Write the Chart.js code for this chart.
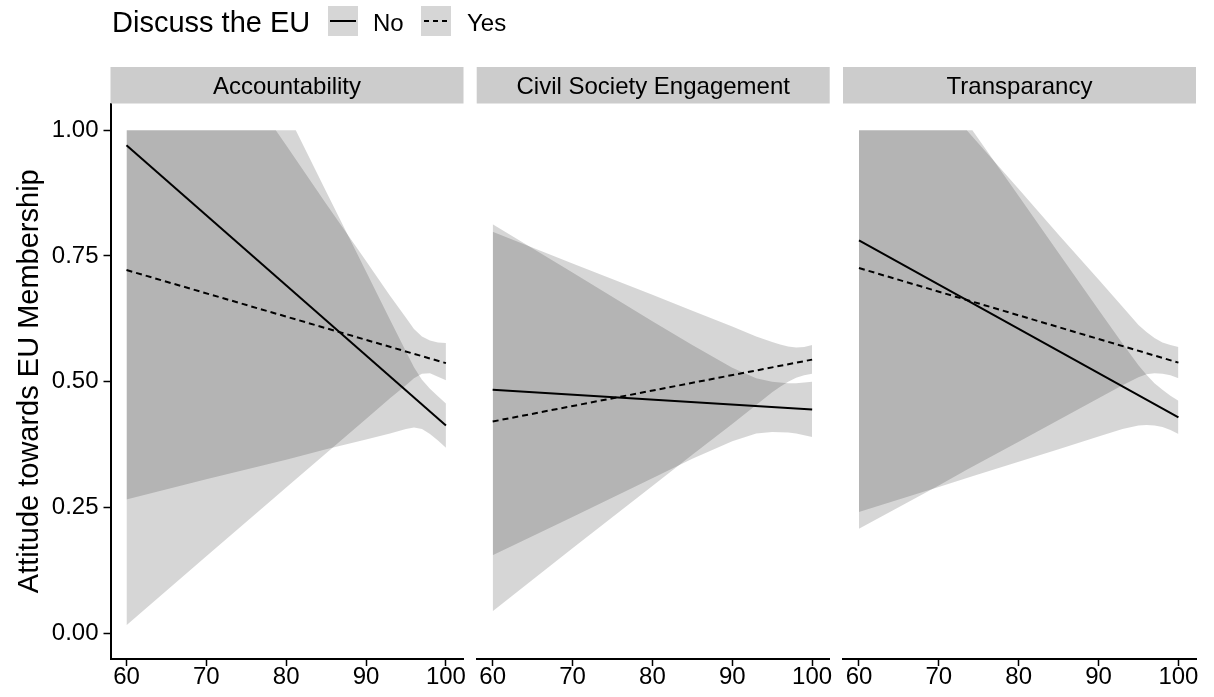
<!DOCTYPE html>
<html>
<head>
<meta charset="utf-8">
<title>Attitude towards EU Membership</title>
<script src="https://cdn.jsdelivr.net/npm/chart.js@4.4.0/dist/chart.umd.min.js"></script>
<style>
  body { margin: 0; background: #fff; font-family: "Liberation Sans", Arial, sans-serif; }
  #wrap { position: relative; width: 1214px; height: 697px; overflow: hidden; background: #fff; }
  #wrap canvas { position: absolute; top: 0; }
  .leg { position: absolute; color: #000; white-space: nowrap; }
  .leg-title { left: 112px; top: 8px; font-size: 29px; line-height: 29px; }
  .leg-text { top: 11px; font-size: 24px; line-height: 24px; }
  .leg-key { position: absolute; top: 6px; }
</style>
</head>
<body>
<div id="wrap">
  <canvas id="p1" width="470" height="697" style="left:0px"></canvas>
  <canvas id="p2" width="366" height="697" style="left:470px"></canvas>
  <canvas id="p3" width="378" height="697" style="left:836px"></canvas>

  <div class="leg leg-title">Discuss the EU</div>
  <svg class="leg-key" style="left:328px" width="30" height="30">
    <rect width="30" height="30" fill="rgb(214,214,214)"></rect>
    <line x1="2" y1="15" x2="28" y2="15" stroke="#000" stroke-width="2"></line>
  </svg>
  <div class="leg leg-text" style="left:373px">No</div>
  <svg class="leg-key" style="left:421px" width="30" height="30">
    <rect width="30" height="30" fill="rgb(214,214,214)"></rect>
    <line x1="3" y1="15" x2="28" y2="15" stroke="#000" stroke-width="2" stroke-dasharray="5 4"></line>
  </svg>
  <div class="leg leg-text" style="left:467px">Yes</div>
</div>

<script>
const xTicks = [60, 70, 80, 90, 100];
const yTicks = [0, 0.25, 0.5, 0.75, 1];
const panelNames = ['Accountability', 'Civil Society Engagement', 'Transparancy'];

// fitted lines, values at x = 60 and x = 100
const lineX = [60, 100];
const accNo = [0.970, 0.413];
const accYes = [0.722, 0.537];
const cseNo = [0.484, 0.445];
const cseYes = [0.421, 0.544];
const traNo = [0.781, 0.429];
const traYes = [0.726, 0.538];

// confidence bands, rows of [x, lower, upper] (upper capped at 1)
const accNoBand = [
  [60, 0.266, 1], [70, 0.306, 1], [80, 0.345, 1], [81.2, 0.350, 1],
  [85, 0.366, 0.878], [90, 0.385, 0.719], [93, 0.397, 0.623], [95, 0.406, 0.560],
  [96, 0.409, 0.529], [97, 0.406, 0.504], [98, 0.396, 0.486], [99, 0.383, 0.471],
  [100, 0.369, 0.457]
];
const accYesBand = [
  [60, 0.016, 1], [70, 0.153, 1], [78.7, 0.272, 1], [80, 0.290, 0.970],
  [85, 0.358, 0.854], [90, 0.426, 0.740], [93, 0.467, 0.671], [95, 0.493, 0.627],
  [96, 0.507, 0.605], [97, 0.516, 0.590], [98, 0.517, 0.582], [99, 0.510, 0.578],
  [100, 0.503, 0.577]
];
const cseNoBand = [
  [60, 0.155, 0.813], [70, 0.231, 0.717], [80, 0.308, 0.620], [85, 0.347, 0.573],
  [90, 0.382, 0.528], [93, 0.397, 0.507], [95, 0.400, 0.500], [97, 0.399, 0.497],
  [98, 0.397, 0.497], [100, 0.390, 0.500]
];
const cseYesBand = [
  [60, 0.044, 0.798], [70, 0.169, 0.735], [80, 0.293, 0.673], [85, 0.355, 0.641],
  [90, 0.416, 0.610], [93, 0.454, 0.590], [95, 0.479, 0.579], [96, 0.490, 0.574],
  [97, 0.500, 0.570], [98, 0.508, 0.568], [99, 0.513, 0.569], [100, 0.516, 0.573]
];
const traNoBand = [
  [60, 0.241, 1], [70, 0.291, 1], [74.2, 0.312, 1], [80, 0.341, 0.869],
  [85, 0.366, 0.756], [90, 0.391, 0.643], [93, 0.406, 0.576], [95, 0.413, 0.533],
  [96, 0.414, 0.514], [97, 0.413, 0.497], [98, 0.410, 0.484], [99, 0.404, 0.472],
  [100, 0.396, 0.462]
];
const traYesBand = [
  [60, 0.208, 1], [70, 0.294, 1], [73.5, 0.325, 1], [80, 0.381, 0.883],
  [85, 0.424, 0.792], [90, 0.467, 0.703], [93, 0.493, 0.649], [95, 0.509, 0.613],
  [96, 0.515, 0.599], [97, 0.517, 0.587], [98, 0.516, 0.578], [99, 0.513, 0.573],
  [100, 0.507, 0.569]
];

const FONT = '"Liberation Sans", Arial, sans-serif';
const ribbonFill = 'rgba(0,0,0,0.16)';
Chart.defaults.font.family = FONT;
Chart.defaults.color = '#000';

function lineSet(vals, dashed) {
  return {
    data: lineX.map((x, i) => ({ x: x, y: vals[i] })),
    borderColor: '#000',
    borderWidth: 2,
    borderDash: dashed ? [6, 4] : [],
    pointRadius: 0,
    fill: false,
    tension: 0
  };
}

function bandSets(band) {
  const common = {
    borderColor: 'rgba(0,0,0,0)',
    borderWidth: 0,
    pointRadius: 0,
    tension: 0
  };
  return [
    Object.assign({}, common, { data: band.map(r => ({ x: r[0], y: r[1] })), fill: false }),
    Object.assign({}, common, { data: band.map(r => ({ x: r[0], y: r[2] })), fill: '-1', backgroundColor: ribbonFill })
  ];
}

// grey facet strip above each panel
const stripPlugin = {
  id: 'strip',
  afterDraw(chart, args, opts) {
    const { ctx, chartArea } = chart;
    ctx.save();
    ctx.fillStyle = 'rgb(204,204,204)';
    ctx.fillRect(chartArea.left, 67, chartArea.right - chartArea.left, chartArea.top - 67);
    ctx.fillStyle = '#000';
    ctx.font = '24px ' + FONT;
    ctx.textAlign = 'center';
    ctx.textBaseline = 'alphabetic';
    ctx.fillText(opts.text, (chartArea.left + chartArea.right) / 2, 93.5);
    ctx.restore();
  }
};

function makePanel(id, name, noVals, yesVals, noBand, yesBand, pad, showY) {
  const datasets = [lineSet(noVals, false), lineSet(yesVals, true)]
    .concat(bandSets(noBand), bandSets(yesBand));
  return new Chart(document.getElementById(id), {
    type: 'line',
    data: { datasets: datasets },
    plugins: [stripPlugin],
    options: {
      responsive: false,
      animation: false,
      devicePixelRatio: 1,
      layout: { padding: { top: 103.5, left: pad[0], right: pad[1], bottom: 0 } },
      plugins: {
        legend: { display: false },
        tooltip: { enabled: false },
        strip: { text: name }
      },
      scales: {
        x: {
          type: 'linear',
          min: 58,
          max: 102.2,
          afterBuildTicks: s => { s.ticks = xTicks.map(v => ({ value: v })); },
          afterFit: s => { s.height = 38; },
          border: { display: true, color: '#000', width: 2 },
          grid: { drawOnChartArea: false, drawTicks: true, tickLength: 7, color: '#000', tickWidth: 1.5 },
          ticks: { color: '#000', font: { size: 24 }, padding: -3, maxRotation: 0, autoSkip: false }
        },
        y: {
          type: 'linear',
          display: showY,
          min: -0.051,
          max: 1.053,
          afterBuildTicks: s => { s.ticks = yTicks.map(v => ({ value: v })); },
          afterFit: s => { if (showY) s.width = 110.5; },
          border: { display: true, color: '#000', width: 2 },
          grid: { drawOnChartArea: false, drawTicks: true, tickLength: 7, color: '#000', tickWidth: 1.5 },
          ticks: { color: '#000', font: { size: 24 }, padding: 5, callback: v => v.toFixed(2) },
          title: {
            display: true,
            text: 'Attitude towards EU Membership',
            color: '#000',
            font: { size: 29 },
            padding: { top: 13, bottom: 0 }
          }
        }
      }
    }
  });
}

makePanel('p1', panelNames[0], accNo, accYes, accNoBand, accYesBand, [0, 6.5], true);
makePanel('p2', panelNames[1], cseNo, cseYes, cseNoBand, cseYesBand, [6.7, 6.3], false);
makePanel('p3', panelNames[2], traNo, traYes, traNoBand, traYesBand, [7, 18], false);
</script>
</body>
</html>
